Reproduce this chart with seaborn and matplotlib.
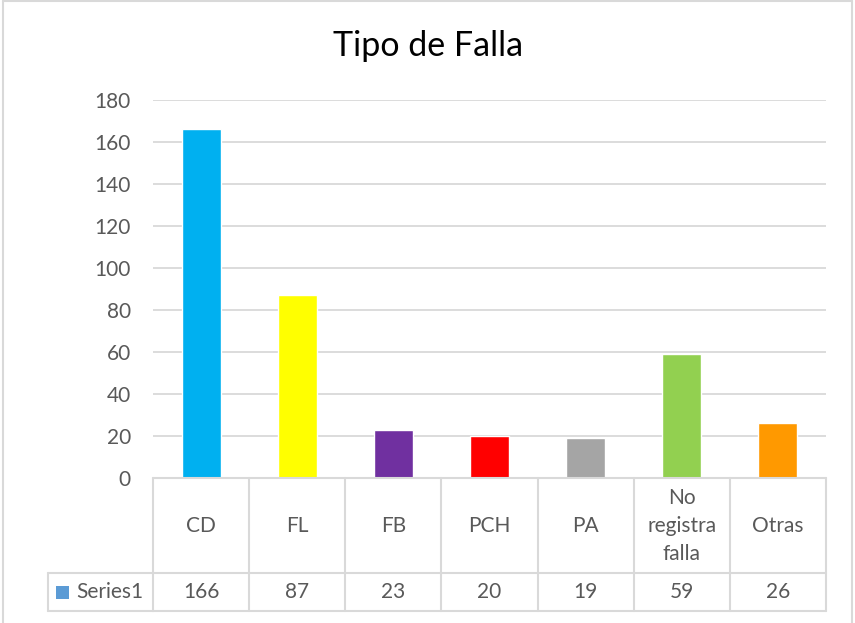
import matplotlib
matplotlib.use("Agg")
import matplotlib.pyplot as plt
import matplotlib.transforms as mtransforms
from matplotlib.lines import Line2D
from matplotlib.patches import Rectangle
import seaborn as sns
import pandas as pd

categories = ["CD", "FL", "FB", "PCH", "PA", "No\nregistra\nfalla", "Otras"]
values = [166, 87, 23, 20, 19, 59, 26]
colors = ["#00B0F0", "#FFFF00", "#7030A0", "#FF0000", "#A5A5A5", "#92D050", "#FF9900"]
series_name = "Series1"
yticks = [0, 20, 40, 60, 80, 100, 120, 140, 160, 180]

sns.set_theme(style="white")
plt.rcParams["font.family"] = ["Lato", "DejaVu Sans"]

W, H = 855, 623
fig = plt.figure(figsize=(W / 100, H / 100), dpi=100)

def fx(px):
    return px / W

def fy(py):
    return 1 - py / H

ax_left, ax_right, ax_top, ax_bottom = 153, 826, 100, 478
ax = fig.add_axes([fx(ax_left), fy(ax_bottom), fx(ax_right - ax_left), (ax_bottom - ax_top) / H])

df = pd.DataFrame({"cat": categories, "val": values})
sns.barplot(data=df, x="cat", y="val", hue="cat", palette=colors, order=categories,
            hue_order=categories, width=0.405, legend=False, ax=ax, saturation=1)

grid_c = "#D9D9D9"
text_c = "#595959"
fs = 15

ax.set_ylim(0, 180)
ax.set_xlim(-0.5, len(categories) - 0.5)
ax.set_yticks(yticks)
ax.set_yticklabels([str(v) for v in yticks], fontsize=fs, color=text_c)
ax.tick_params(axis="y", length=0, pad=16)
ax.set_xticks([])
ax.set_xlabel("")
ax.set_ylabel("")
for s in ax.spines.values():
    s.set_visible(False)
ax.yaxis.grid(True, color=grid_c, linewidth=1.3)
ax.set_axisbelow(True)

# data table under the plot area
axh = ax_bottom - ax_top
def ya(py):
    return -(py - ax_bottom) / axh

trans = mtransforms.blended_transform_factory(ax.transData, ax.transAxes)
row1, row2 = 573, 611
n = len(categories)
lw = 1.5

def line(xs, ys, tr):
    ax.add_line(Line2D(xs, ys, transform=tr, color=grid_c, lw=lw, clip_on=False))

line([-0.5, n - 0.5], [0, 0], trans)
line([-0.5, n - 0.5], [ya(row1), ya(row1)], trans)
line([-0.5, n - 0.5], [ya(row2), ya(row2)], trans)
for i in range(n + 1):
    line([i - 0.5, i - 0.5], [0, ya(row2)], trans)

# series label cell
fig.add_artist(Line2D([fx(48), fx(ax_left)], [fy(row1), fy(row1)], color=grid_c, lw=lw))
fig.add_artist(Line2D([fx(48), fx(ax_left)], [fy(row2), fy(row2)], color=grid_c, lw=lw))
fig.add_artist(Line2D([fx(48), fx(48)], [fy(row1), fy(row2)], color=grid_c, lw=lw))
fig.add_artist(Rectangle((fx(56), fy(599)), fx(13), 13 / H, color="#5B9BD5", lw=0))
fig.text(fx(76), fy((row1 + row2) / 2), series_name, fontsize=fs, color=text_c,
         ha="left", va="center")

for i, (c, v) in enumerate(zip(categories, values)):
    ax.text(i, ya((ax_bottom + row1) / 2), c, transform=trans, ha="center", va="center",
            fontsize=fs, color=text_c, linespacing=1.5)
    ax.text(i, ya((row1 + row2) / 2), str(v), transform=trans, ha="center", va="center",
            fontsize=fs, color=text_c)

# chart title
fig.text(fx(428), fy(46), "Tipo de Falla", fontsize=24.5, color="#000000",
         ha="center", va="center")

# chart frame
fig.add_artist(Line2D([fx(3), fx(3)], [fy(1), 0], color=grid_c, lw=1.5))
fig.add_artist(Line2D([fx(852), fx(852)], [fy(1), 0], color=grid_c, lw=1.5))
fig.add_artist(Line2D([fx(3), fx(852)], [fy(1), fy(1)], color=grid_c, lw=1.5))

fig.savefig("out.png", dpi=100, facecolor="white")
